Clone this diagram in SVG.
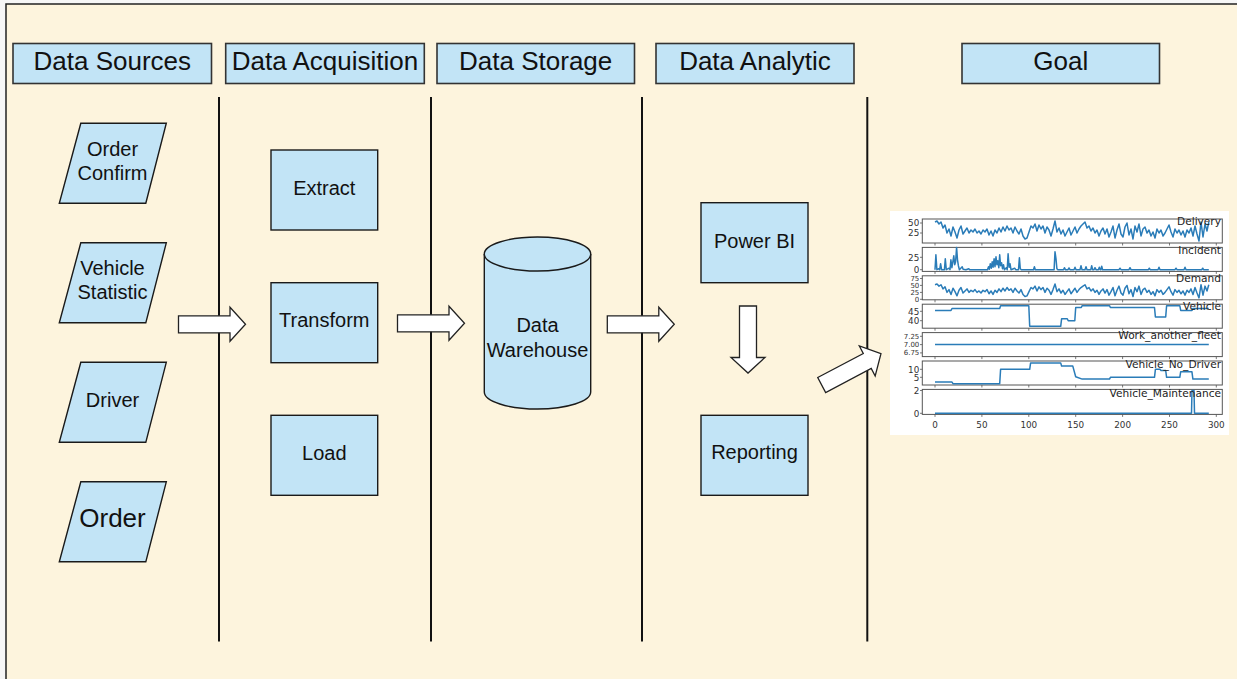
<svg xmlns="http://www.w3.org/2000/svg" xmlns:xlink="http://www.w3.org/1999/xlink" width="1237" height="679" viewBox="0 0 1237 679">
  <style>
    .hdr { fill: #c2e4f6; stroke: #333; stroke-width: 1.6; }
    .box { fill: #c2e4f6; stroke: #1a1a1a; stroke-width: 1.4; }
    .lane { stroke: #111; stroke-width: 2; }
    .arrow { fill: #fff; stroke: #222; stroke-width: 1.3; stroke-linejoin: miter; }
    .t20 { font-family: "Liberation Sans", Arial, sans-serif; font-size: 20px; fill: #111; text-anchor: middle; }
    .t26 { font-family: "Liberation Sans", Arial, sans-serif; font-size: 26px; fill: #111; text-anchor: middle; }
    .spine { fill: none; stroke: #555; stroke-width: 1; }
    .tick { stroke: #555; stroke-width: 0.8; }
    .series { fill: none; stroke: #2a7cb8; stroke-width: 1.5; stroke-linejoin: round; }
    .ylab { font-family: "DejaVu Sans", sans-serif; font-size: 8.8px; fill: #333; text-anchor: end; }
    .ylab-s { font-family: "DejaVu Sans", sans-serif; font-size: 7px; fill: #333; text-anchor: end; }
    .xlab { font-family: "DejaVu Sans", sans-serif; font-size: 8.8px; fill: #333; text-anchor: middle; }
    .ttl { font-family: "DejaVu Sans", sans-serif; font-size: 10.6px; fill: #222; text-anchor: end; }
  </style>
  <defs>
    <path id="block-arrow" d="M0,-8.5 H51.5 V-17 L67,0 L51.5,17 V8.5 H0 Z"/>
    <polygon id="para" points="21.5,0 107,0 86.5,80 0,80"/>
  </defs>

  <!-- page -->
  <rect x="0" y="0" width="1237" height="679" fill="#f6f6f6"/>
  <rect x="6" y="4" width="1240" height="690" fill="#fdf4dd" stroke="#222" stroke-width="1.5"/>

  <!-- column headers -->
  <g id="hdr-sources">
    <rect class="hdr" x="13" y="43.5" width="198.5" height="40"/>
    <text class="t26" x="112.3" y="69.5">Data Sources</text>
  </g>
  <g id="hdr-acquisition">
    <rect class="hdr" x="225.7" y="43.5" width="198.6" height="40"/>
    <text class="t26" x="325" y="69.5">Data Acquisition</text>
  </g>
  <g id="hdr-storage">
    <rect class="hdr" x="437" y="43.5" width="197.5" height="40"/>
    <text class="t26" x="535.7" y="69.5">Data Storage</text>
  </g>
  <g id="hdr-analytic">
    <rect class="hdr" x="656" y="43.5" width="198" height="40"/>
    <text class="t26" x="755" y="69.5">Data Analytic</text>
  </g>
  <g id="hdr-goal">
    <rect class="hdr" x="962" y="43.5" width="197.5" height="40"/>
    <text class="t26" x="1060.7" y="69.5">Goal</text>
  </g>

  <!-- lane separators -->
  <g id="lanes">
    <line class="lane" x1="219" y1="97" x2="219" y2="641.5"/>
    <line class="lane" x1="431" y1="97" x2="431" y2="641.5"/>
    <line class="lane" x1="642" y1="97" x2="642" y2="641.5"/>
    <line class="lane" x1="867.3" y1="97" x2="867.3" y2="641.5"/>
  </g>

  <!-- data sources -->
  <g id="src-order-confirm">
    <use href="#para" class="box" x="59.3" y="123.2"/>
    <text class="t20" x="112.5" y="156">Order</text>
    <text class="t20" x="112.5" y="180">Confirm</text>
  </g>
  <g id="src-vehicle-statistic">
    <use href="#para" class="box" x="59.3" y="242.8"/>
    <text class="t20" x="112.5" y="275">Vehicle</text>
    <text class="t20" x="112.5" y="299.3">Statistic</text>
  </g>
  <g id="src-driver">
    <use href="#para" class="box" x="59.3" y="362.3"/>
    <text class="t20" x="112.5" y="406.5">Driver</text>
  </g>
  <g id="src-order">
    <use href="#para" class="box" x="59.3" y="481.8"/>
    <text class="t26" x="112.5" y="527">Order</text>
  </g>

  <!-- acquisition steps -->
  <g id="etl-extract">
    <rect class="box" x="271" y="150" width="106.7" height="80"/>
    <text class="t20" x="324.3" y="194.5">Extract</text>
  </g>
  <g id="etl-transform">
    <rect class="box" x="271" y="282.7" width="106.7" height="80"/>
    <text class="t20" x="324.3" y="327">Transform</text>
  </g>
  <g id="etl-load">
    <rect class="box" x="271" y="415.3" width="106.7" height="80"/>
    <text class="t20" x="324.3" y="459.5">Load</text>
  </g>

  <!-- storage -->
  <g id="warehouse">
    <path class="box" d="M484.3,254 A53.2,17 0 0 1 590.7,254 V392 A53.2,17 0 0 1 484.3,392 Z"/>
    <path fill="none" stroke="#1a1a1a" stroke-width="1.4" d="M484.3,254 A53.2,17 0 0 0 590.7,254"/>
    <text class="t20" x="537.5" y="332">Data</text>
    <text class="t20" x="537.5" y="356.5">Warehouse</text>
  </g>

  <!-- analytics -->
  <g id="ana-powerbi">
    <rect class="box" x="701" y="202.7" width="107" height="80"/>
    <text class="t20" x="754.5" y="247.5">Power BI</text>
  </g>
  <g id="ana-reporting">
    <rect class="box" x="701" y="415.3" width="107" height="80"/>
    <text class="t20" x="754.5" y="459.3">Reporting</text>
  </g>

  <!-- flow arrows -->
  <g id="connectors">
    <use href="#block-arrow" class="arrow" transform="translate(178.5,324.3)"/>
    <use href="#block-arrow" class="arrow" transform="translate(397.5,323.3)"/>
    <use href="#block-arrow" class="arrow" transform="translate(607.3,324.3)"/>
    <use href="#block-arrow" class="arrow" transform="translate(748,306) rotate(90)"/>
    <use href="#block-arrow" class="arrow" transform="translate(821.7,385) rotate(-27.8)"/>
  </g>

  <!-- goal: time-series panels -->
  <g id="goal-chart">
    <rect x="890" y="211" width="339" height="224" fill="#ffffff"/>

    <!-- axes frames -->
    <rect class="spine" x="922.3" y="219" width="300" height="24"/>
    <rect class="spine" x="922.3" y="247.4" width="300" height="24"/>
    <rect class="spine" x="922.3" y="275.8" width="300" height="24"/>
    <rect class="spine" x="922.3" y="304.2" width="300" height="24"/>
    <rect class="spine" x="922.3" y="332.6" width="300" height="24"/>
    <rect class="spine" x="922.3" y="361" width="300" height="24"/>
    <rect class="spine" x="922.3" y="389.4" width="300" height="25"/>

    <!-- x ticks under each panel -->
    <g class="tick">
      <path d="M935,243v2.5M981.9,243v2.5M1028.8,243v2.5M1075.7,243v2.5M1122.6,243v2.5M1169.5,243v2.5M1216.3,243v2.5"/>
      <path d="M935,271.4v2.5M981.9,271.4v2.5M1028.8,271.4v2.5M1075.7,271.4v2.5M1122.6,271.4v2.5M1169.5,271.4v2.5M1216.3,271.4v2.5"/>
      <path d="M935,299.8v2.5M981.9,299.8v2.5M1028.8,299.8v2.5M1075.7,299.8v2.5M1122.6,299.8v2.5M1169.5,299.8v2.5M1216.3,299.8v2.5"/>
      <path d="M935,328.2v2.5M981.9,328.2v2.5M1028.8,328.2v2.5M1075.7,328.2v2.5M1122.6,328.2v2.5M1169.5,328.2v2.5M1216.3,328.2v2.5"/>
      <path d="M935,356.6v2.5M981.9,356.6v2.5M1028.8,356.6v2.5M1075.7,356.6v2.5M1122.6,356.6v2.5M1169.5,356.6v2.5M1216.3,356.6v2.5"/>
      <path d="M935,385v2.5M981.9,385v2.5M1028.8,385v2.5M1075.7,385v2.5M1122.6,385v2.5M1169.5,385v2.5M1216.3,385v2.5"/>
      <path d="M935,414.4v2.5M981.9,414.4v2.5M1028.8,414.4v2.5M1075.7,414.4v2.5M1122.6,414.4v2.5M1169.5,414.4v2.5M1216.3,414.4v2.5"/>
      <!-- y ticks -->
      <path d="M920,223h2.3M920,233h2.3M920,257.3h2.3M920,269.7h2.3M920,278.5h2.3M920,285.4h2.3M920,292.4h2.3M920,299.3h2.3M920,311.3h2.3M920,320.7h2.3M920,336.3h2.3M920,344.6h2.3M920,352.9h2.3M920,369.3h2.3M920,377.3h2.3M920,390.5h2.3M920,413.3h2.3"/>
    </g>

    <!-- y tick labels -->
    <text class="ylab" x="919.3" y="226.2">50</text>
    <text class="ylab" x="919.3" y="236.2">25</text>
    <text class="ylab" x="919.3" y="260.5">25</text>
    <text class="ylab" x="919.3" y="272.9">0</text>
    <text class="ylab-s" x="919.3" y="281">75</text>
    <text class="ylab-s" x="919.3" y="287.9">50</text>
    <text class="ylab-s" x="919.3" y="294.9">25</text>
    <text class="ylab-s" x="919.3" y="301.8">0</text>
    <text class="ylab" x="919.3" y="314.5">45</text>
    <text class="ylab" x="919.3" y="323.9">40</text>
    <text class="ylab-s" x="919.3" y="338.8">7.25</text>
    <text class="ylab-s" x="919.3" y="347.1">7.00</text>
    <text class="ylab-s" x="919.3" y="355.4">6.75</text>
    <text class="ylab" x="919.3" y="372.5">10</text>
    <text class="ylab" x="919.3" y="380.5">5</text>
    <text class="ylab" x="919.3" y="393.7">2</text>
    <text class="ylab" x="919.3" y="416.5">0</text>

    <!-- x tick labels -->
    <text class="xlab" x="935" y="428.3">0</text>
    <text class="xlab" x="981.9" y="428.3">50</text>
    <text class="xlab" x="1028.8" y="428.3">100</text>
    <text class="xlab" x="1075.7" y="428.3">150</text>
    <text class="xlab" x="1122.6" y="428.3">200</text>
    <text class="xlab" x="1169.5" y="428.3">250</text>
    <text class="xlab" x="1216.3" y="428.3">300</text>

    <!-- Delivery -->
    <polyline id="delivery-line" class="series" vector-effect="non-scaling-stroke" points="935,222 937,221 939,224 941,222 943,228 945,225 947,233 949,229 951,236 953,227 955,232 957,238 959,230 961,226 963,234 965,231 967,228 969,233 971,230 973,232 975,229 977,233 979,231 981,234 983,230 985,232 987,229 989,235 991,231 993,236 995,230 997,233 999,228 1001,232 1003,227 1005,231 1007,226 1009,230 1011,228 1013,233 1015,227 1017,231 1019,234 1021,229 1023,236 1025,239 1027,238 1029,232 1031,226 1033,228 1035,224 1037,231 1039,225 1041,229 1043,226 1045,233 1047,227 1049,230 1051,236 1053,229 1055,221 1057,232 1059,228 1061,234 1063,230 1065,236 1067,232 1069,228 1071,235 1073,231 1075,227 1077,233 1079,229 1081,226 1083,224 1085,222 1087,228 1089,226 1091,231 1093,228 1095,233 1097,230 1099,236 1101,231 1103,228 1105,234 1107,229 1109,237 1111,232 1113,226 1115,238 1117,230 1119,224 1121,234 1123,237 1125,227 1127,223 1129,235 1131,229 1133,239 1135,226 1137,232 1139,224 1141,236 1143,229 1145,227 1147,233 1149,230 1151,236 1153,232 1155,238 1157,229 1159,233 1161,230 1163,236 1165,233 1167,229 1169,225 1171,232 1173,237 1175,229 1177,233 1179,230 1181,235 1183,231 1185,237 1187,230 1189,233 1191,228 1193,236 1195,226 1197,234 1199,241 1201,222 1203,237 1205,224 1207,231 1208.8,222"/>

    <!-- Incident -->
    <polyline class="series" points="935,269.7 935.9,254.8 936.9,269.7 938.8,268.7 939.7,269.7 940.6,263.7 941.6,269.7 944.4,269.7 945.3,258.8 946.3,269.7 949.1,268.2 950,269.7 950.9,259.8 951.9,267.7 953.8,255.8 954.7,264.7 955.6,261.8 956.6,247.4 957.5,259.8 958.4,265.7 959.4,269.7 962.2,266.7 963.1,269.2 965.9,269.7 968.8,268.7 969.7,269.7 987.5,269.7 988.5,266.7 989.4,269.2 990.3,263.7 991.3,268.2 992.2,261.8 993.1,267.2 994.1,258.8 995,266.7 996,256.8 996.9,264.7 997.8,260.8 998.8,267.7 999.7,254.8 1000.6,265.7 1001.6,262.8 1002.5,268.7 1003.5,264.7 1004.4,269.7 1006.3,267.7 1007.2,269.7 1008.1,253.8 1009.1,267.2 1010,263.7 1011,269.7 1014.7,268.2 1015.7,269.7 1018.5,269.7 1019.4,257.8 1020.3,268.7 1021.3,269.7 1033.5,269.7 1034.4,266.7 1035.3,269.7 1054.1,269.7 1055,251.8 1056,258.8 1056.9,268.7 1057.9,269.7 1063.5,269.7 1064.4,267.7 1065.4,269.7 1068,269.7 1069,268 1070,269.7 1074,269.7 1075,267.2 1076,269.7 1080,269.7 1081,265.7 1082,269.7 1085,269.7 1086,266.7 1087,269.7 1090.8,269.7 1091.7,265.7 1092.6,269.7 1094,269.7 1095,267.7 1096,269.7 1098.4,269.7 1099.3,267.2 1100.2,269.7 1100.8,269.7 1101.7,266.2 1102.6,269.7 1119,269.7 1120,268.2 1121,269.7 1129,269.7 1130,267.7 1131,269.7 1148.4,269.7 1149.3,268.2 1150.2,269.7 1158,269.7 1159,267.2 1160,269.7 1175,269.7 1176,268.2 1177,269.7 1184,269.7 1185,267.2 1186,269.7 1201.8,269.7 1202.7,268.2 1203.6,269.7 1208.8,269.7"/>

    <!-- Demand (same shape family as Delivery, rescaled) -->
    <use href="#delivery-line" transform="matrix(1 0 0 0.6933 0 130.83)"/>

    <!-- Vehicle -->
    <polyline class="series" points="935,310.4 951,310.4 952,308.5 999.7,308.5 1000.6,305.7 1028.8,305.7 1029.7,326.3 1060.7,326.3 1061.6,318.8 1067.3,318.8 1068.2,320.7 1074.8,320.7 1075.7,307.5 1081.3,307.5 1082.2,305.7 1109.5,305.7 1110.4,307.5 1154.5,307.5 1155.4,316.9 1165.7,316.9 1166.6,305.7 1179.8,305.7 1180.7,310.4 1192,310.4 1192.9,308.5 1208.8,308.5"/>

    <!-- Work_another_fleet -->
    <polyline class="series" points="935,344.6 1208.8,344.6"/>

    <!-- Vehicle_No_Driver -->
    <polyline class="series" points="935,382.1 952,382.1 953,383.7 999.7,383.7 1000.6,369.3 1029.7,369.3 1030.6,362.9 1060.7,362.9 1061.6,366.1 1072.8,366.1 1075.7,376.7 1082.2,379.1 1109.5,379.1 1110.4,377.3 1154.5,377.3 1155.4,369.3 1160,369.3 1161,370.5 1165.7,370.5 1166.6,377.3 1179.8,377.3 1180.7,371.7 1191.9,371.7 1192.9,379.1 1208.8,379.1"/>

    <!-- Vehicle_Maintenance -->
    <polyline class="series" points="935,413.3 1191.5,413.3 1192,390.5 1194,390.5 1194.5,413.3 1208.8,413.3"/>

    <!-- panel titles -->
    <text class="ttl" x="1221" y="225">Delivery</text>
    <text class="ttl" x="1221" y="253.5">Incident</text>
    <text class="ttl" x="1221" y="282">Demand</text>
    <text class="ttl" x="1221" y="310">Vehicle</text>
    <text class="ttl" x="1221" y="339">Work_another_fleet</text>
    <text class="ttl" x="1221" y="368">Vehicle_No_Driver</text>
    <text class="ttl" x="1221" y="397">Vehicle_Maintenance</text>
  </g>
</svg>
